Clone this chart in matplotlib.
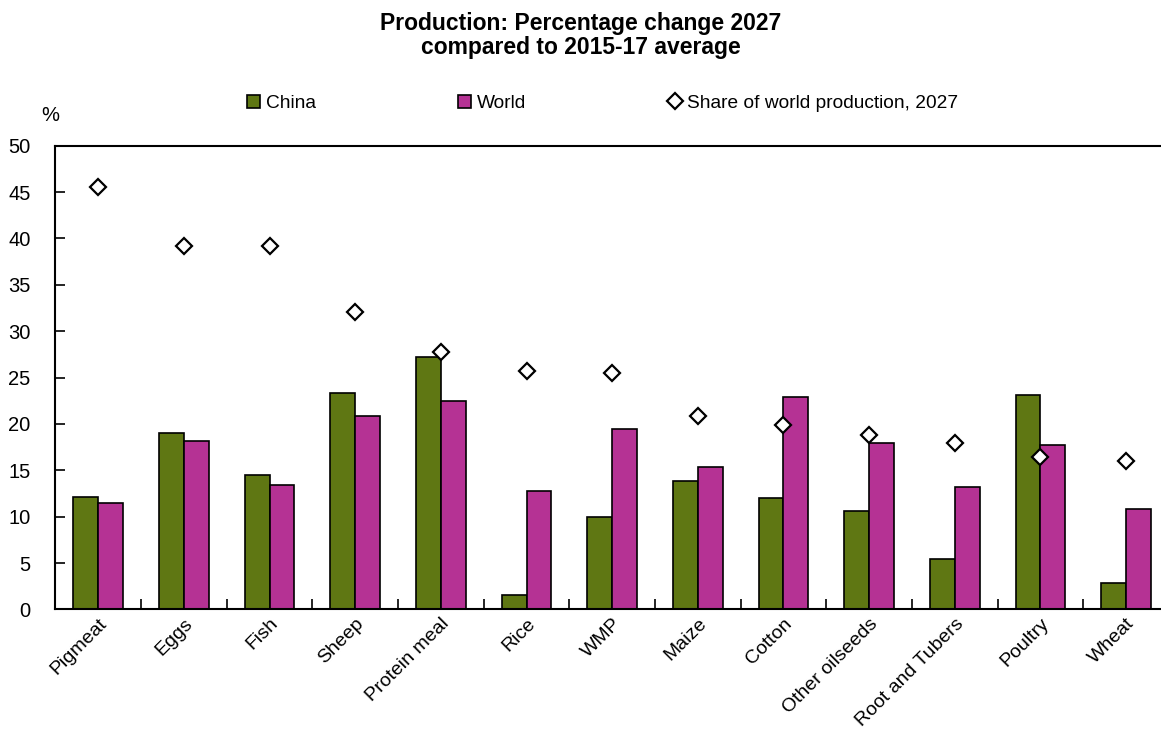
import matplotlib
matplotlib.use("Agg")
import matplotlib.pyplot as plt
import numpy as np

plt.rcParams['font.family'] = ['Liberation Sans', 'DejaVu Sans']

# data
categories = ["Pigmeat", "Eggs", "Fish", "Sheep", "Protein meal", "Rice", "WMP",
              "Maize", "Cotton", "Other oilseeds", "Root and Tubers", "Poultry", "Wheat"]
china = [12.1, 19.0, 14.5, 23.3, 27.2, 1.6, 10.0, 13.9, 12.0, 10.6, 5.4, 23.1, 2.9]
world = [11.5, 18.2, 13.4, 20.9, 22.5, 12.8, 19.5, 15.4, 22.9, 18.0, 13.2, 17.7, 10.8]
share = [45.5, 39.2, 39.2, 32.1, 27.8, 25.7, 25.5, 20.9, 19.9, 18.8, 18.0, 16.4, 16.0]
yticks = [0, 5, 10, 15, 20, 25, 30, 35, 40, 45, 50]

green = '#5f7713'
magenta = '#b53294'

fig = plt.figure(figsize=(11.61, 7.33), dpi=100)
ax = fig.add_axes([0.0478, 0.1685, 0.959, 0.6327])

x = np.arange(len(categories))
w = 0.29
b1 = ax.bar(x - w / 2, china, w, color=green, edgecolor='black', linewidth=1.2, label='China', zorder=2)
b2 = ax.bar(x + w / 2, world, w, color=magenta, edgecolor='black', linewidth=1.2, label='World', zorder=2)
d, = ax.plot(x, share, linestyle='none', marker='D', markersize=8.5, markerfacecolor='white',
             markeredgecolor='black', markeredgewidth=1.6, label='Share of world production, 2027', zorder=3)

ax.set_xlim(-0.5, len(categories) - 0.5)
ax.set_ylim(0, 50)
ax.set_yticks(yticks)
ax.tick_params(axis='y', direction='in', length=7, width=1.2, labelsize=14.5, pad=18)

ax.set_xticks(x)
ax.set_xticklabels(categories, rotation=45, ha='right', rotation_mode='anchor', fontsize=14)
ax.tick_params(axis='x', which='major', length=0, pad=4)
ax.set_xticks(x[:-1] + 0.5, minor=True)
ax.tick_params(axis='x', which='minor', direction='in', length=7, width=1.2)

for s in ['left', 'bottom', 'top']:
    ax.spines[s].set_linewidth(1.5)
ax.spines['right'].set_visible(False)

fig.text(0.5, 0.952, "Production: Percentage change 2027\ncompared to 2015-17 average",
         ha='center', va='center', fontsize=16.5, fontweight='bold', linespacing=1.05)
fig.text(0.043, 0.843, "%", ha='center', va='center', fontsize=14.5)

fig.legend([b1, b2, d], ['China', 'World', 'Share of world production, 2027'],
           loc='center', bbox_to_anchor=(0.519, 0.859), ncol=3, frameon=False, fontsize=13.8,
           handlelength=0.7, handleheight=0.7, handletextpad=0.3, columnspacing=7.4)

plt.savefig("out.png", dpi=100)
